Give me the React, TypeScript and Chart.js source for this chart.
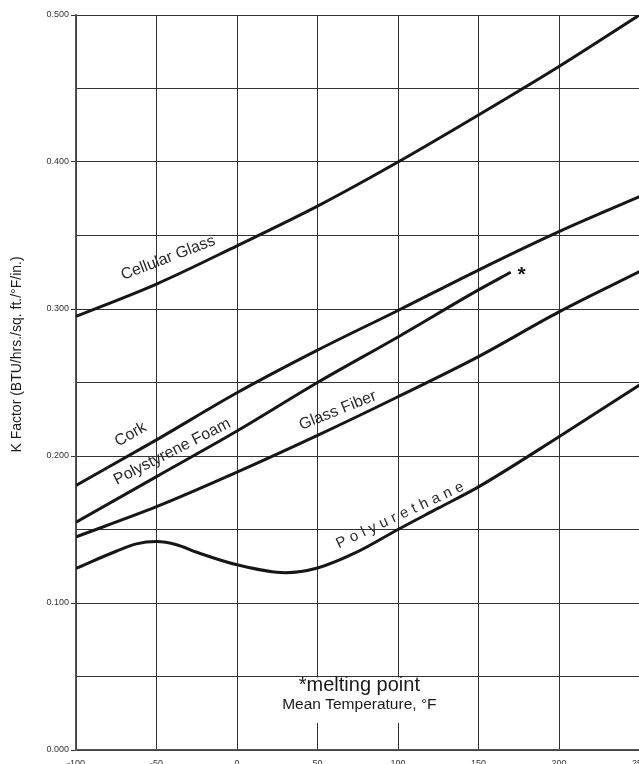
import React, { useEffect, useRef } from "react";
import { Chart, registerables } from "chart.js";

Chart.register(...registerables);

// Mean temperature (°F) axis ticks
const xTickValues = [-100, -50, 0, 50, 100, 150, 200, 250];

// Series: K factor vs mean temperature
const cellularGlassT = [-100, -50, 0, 50, 100, 150, 200, 250];
const cellularGlassK = [0.295, 0.317, 0.343, 0.37, 0.4, 0.432, 0.465, 0.5];

const corkT = [-100, -50, 0, 50, 100, 150, 200, 250];
const corkK = [0.18, 0.211, 0.243, 0.272, 0.299, 0.3265, 0.3526, 0.3764];

const polystyreneT = [-100, -50, 0, 50, 100, 150, 170];
const polystyreneK = [0.155, 0.186, 0.217, 0.25, 0.281, 0.313, 0.325];

const glassFiberT = [-100, -50, 0, 50, 100, 150, 200, 250];
const glassFiberK = [0.145, 0.1655, 0.189, 0.214, 0.2403, 0.2676, 0.298, 0.3254];

const polyurethaneT = [-100, -75, -62.5, -50, -37.5, -25, 0, 30, 50, 75, 100, 125, 150, 200, 250];
const polyurethaneK = [0.1236, 0.1352, 0.1402, 0.1418, 0.1396, 0.1345, 0.126, 0.1206, 0.1238, 0.1349, 0.15, 0.1645, 0.179, 0.2131, 0.2483];

const seriesNames = ["Cellular Glass", "Cork", "Polystyrene Foam", "Glass Fiber", "Polyurethane"];

const toPoints = (xs: number[], ys: number[]) => xs.map((x, i) => ({ x, y: ys[i] }));

const FONT = "'Liberation Sans', Arial, sans-serif";

const textPlugin = {
  id: "textPlugin",
  afterDraw(chart: any) {
    const ctx = chart.ctx as CanvasRenderingContext2D;
    const xs = chart.scales.x;
    const ys = chart.scales.y;
    const area = chart.chartArea;

    const rotated = (text: string, tx: number, ty: number, angle: number, size: number, spacing = 0) => {
      const px = xs.getPixelForValue(tx);
      const py = ys.getPixelForValue(ty);
      ctx.save();
      ctx.translate(px, py);
      ctx.rotate((angle * Math.PI) / 180);
      ctx.font = `${size}px ${FONT}`;
      ctx.fillStyle = "#2a2a2a";
      ctx.textBaseline = "alphabetic";
      if (spacing === 0) {
        ctx.textAlign = "center";
        ctx.fillText(text, 0, 0.358 * size);
      } else {
        ctx.textAlign = "left";
        const chars = text.split("");
        const widths = chars.map((c) => ctx.measureText(c).width);
        const total = widths.reduce((a, b) => a + b, 0) + spacing * (chars.length - 1);
        let cx = -total / 2;
        chars.forEach((c, i) => {
          ctx.fillText(c, cx, 0.358 * size);
          cx += widths[i] + spacing;
        });
      }
      ctx.restore();
    };

    rotated(seriesNames[0], -43.1, 0.3355, -21, 16);
    rotated(seriesNames[1], -66.5, 0.2154, -30, 16);
    rotated(seriesNames[2], -40.7, 0.2037, -27, 16);
    rotated(seriesNames[3], 62.3, 0.2317, -22, 16);
    rotated(seriesNames[4], 100.9, 0.1604, -25, 15, 4.6);

    // melting point asterisk at end of polystyrene curve
    ctx.save();
    ctx.font = `bold 21px ${FONT}`;
    ctx.fillStyle = "#1a1a1a";
    ctx.textAlign = "center";
    ctx.textBaseline = "alphabetic";
    ctx.fillText("*", xs.getPixelForValue(176.8), ys.getPixelForValue(0.3277) + 0.6 * 21);
    ctx.restore();

    // white box with the note and axis title
    const cx = xs.getPixelForValue(76);
    const b1 = ys.getPixelForValue(0.0403);
    const b2 = ys.getPixelForValue(0.0279);
    ctx.save();
    ctx.font = `15.5px ${FONT}`;
    const w2 = ctx.measureText("Mean Temperature, °F").width;
    const top = ys.getPixelForValue(0.05) + 1;
    ctx.fillStyle = "#ffffff";
    ctx.fillRect(cx - w2 / 2 - 2, top, w2 + 4, b2 + 14 - top);
    ctx.fillStyle = "#1a1a1a";
    ctx.textAlign = "center";
    ctx.textBaseline = "alphabetic";
    ctx.font = `20px ${FONT}`;
    ctx.fillText("*melting point", cx, b1);
    ctx.font = `15.5px ${FONT}`;
    ctx.fillText("Mean Temperature, °F", cx, b2);
    ctx.restore();

    // y axis title
    ctx.save();
    ctx.translate(17, (area.top + area.bottom) / 2 - 28);
    ctx.rotate(-Math.PI / 2);
    ctx.font = `14px ${FONT}`;
    ctx.fillStyle = "#1a1a1a";
    ctx.textAlign = "center";
    ctx.textBaseline = "middle";
    ctx.fillText("K Factor (BTU/hrs./sq. ft./°F/in.)", 0, 0);
    ctx.restore();
  },
};

export default function App() {
  const ref = useRef<HTMLCanvasElement | null>(null);

  useEffect(() => {
    if (!ref.current) return;
    const lineStyle = {
      borderColor: "#161616",
      borderWidth: 3,
      pointRadius: 0,
      fill: false,
      cubicInterpolationMode: "monotone" as const,
    };
    const chart = new Chart(ref.current, {
      type: "line",
      data: {
        datasets: [
          { label: seriesNames[0], data: toPoints(cellularGlassT, cellularGlassK), ...lineStyle },
          { label: seriesNames[1], data: toPoints(corkT, corkK), ...lineStyle },
          { label: seriesNames[2], data: toPoints(polystyreneT, polystyreneK), ...lineStyle },
          { label: seriesNames[3], data: toPoints(glassFiberT, glassFiberK), ...lineStyle },
          { label: seriesNames[4], data: toPoints(polyurethaneT, polyurethaneK), ...lineStyle },
        ],
      },
      options: {
        animation: false,
        responsive: false,
        devicePixelRatio: 1,
        layout: { padding: { left: 0, top: 15, right: 40.5, bottom: 30 } },
        plugins: { legend: { display: false }, tooltip: { enabled: false } },
        scales: {
          x: {
            type: "linear",
            min: -100,
            max: 250,
            afterBuildTicks: (scale: any) => {
              scale.ticks = xTickValues.map((v) => ({ value: v }));
            },
            afterFit: (scale: any) => {
              scale.height = 20;
            },
            ticks: {
              font: { family: FONT, size: 9 },
              color: "#333",
              padding: 3,
              maxRotation: 0,
            },
            grid: {
              color: "#333",
              lineWidth: 1,
              tickLength: 5,
              tickColor: "rgba(0,0,0,0)",
            },
            border: { color: "#555", width: 1.5 },
          },
          y: {
            type: "linear",
            min: 0,
            max: 0.5,
            afterFit: (scale: any) => {
              scale.width = 76;
            },
            ticks: {
              stepSize: 0.05,
              font: { family: FONT, size: 9 },
              color: "#333",
              padding: 2,
              callback: (v: any, i: number) => (i % 2 === 0 ? Number(v).toFixed(3) : ""),
            },
            grid: {
              color: "#333",
              lineWidth: 1,
              tickLength: 5,
              tickColor: (c: any) => (c.index % 2 === 0 ? "#333" : "rgba(0,0,0,0)"),
            },
            border: { color: "#555", width: 1.5 },
          },
        },
      },
      plugins: [textPlugin],
    });
    return () => chart.destroy();
  }, []);

  return (
    <div
      style={{
        position: "fixed",
        left: 0,
        top: 0,
        width: 639,
        height: 764,
        overflow: "hidden",
        background: "#fff",
      }}
    >
      <canvas ref={ref} width={680} height={800} style={{ width: 680, height: 800, display: "block" }} />
    </div>
  );
}
